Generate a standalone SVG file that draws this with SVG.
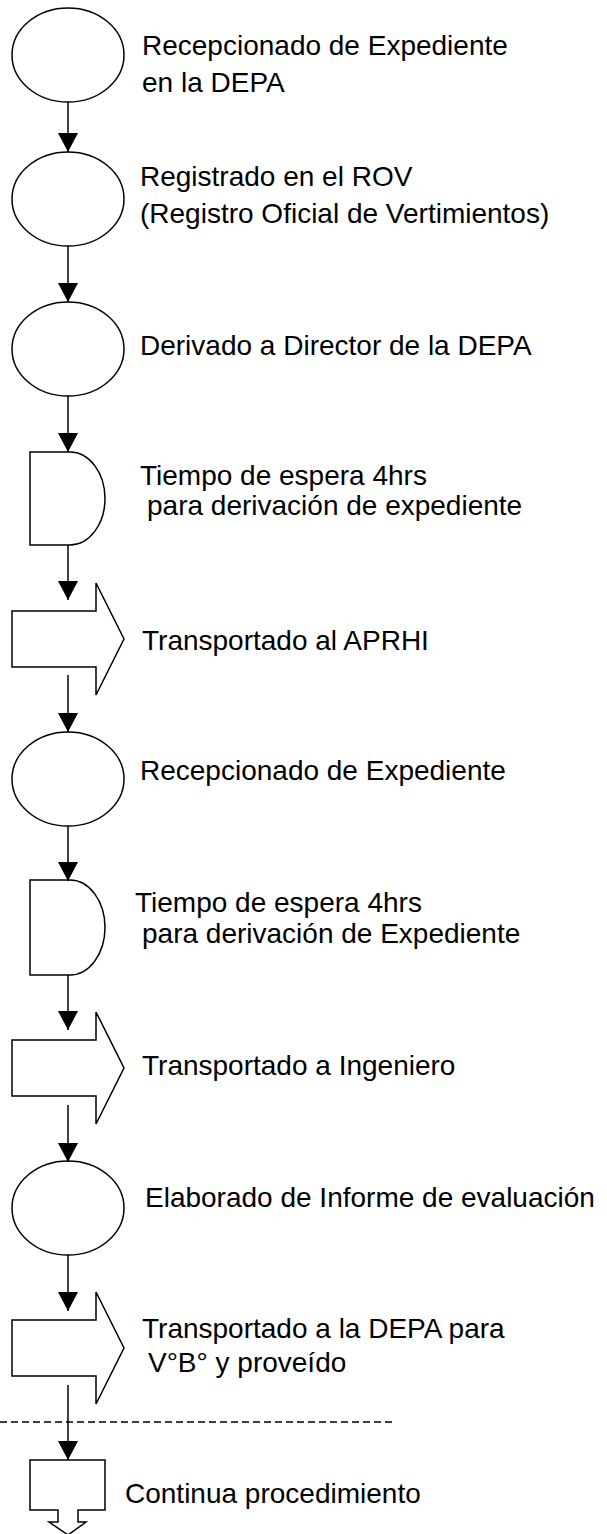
<svg xmlns="http://www.w3.org/2000/svg" width="607" height="1534" viewBox="0 0 607 1534">
<style>
.s{fill:#fff;stroke:#000;stroke-width:1.5}
.t{font-family:"Liberation Sans",Arial,sans-serif;font-size:28px;fill:#000}
.c{stroke:#000;stroke-width:1.5;fill:none}
</style>
<defs>
<marker id="ah" markerUnits="userSpaceOnUse" markerWidth="20" markerHeight="20" viewBox="0 0 20 20" refX="19" refY="10" orient="auto">
<path d="M0,0 L19,10 L0,20 Z" fill="#000"/>
</marker>
</defs>
<rect width="607" height="1534" fill="#fff"/>
<g id="n1"><ellipse class="s" cx="68" cy="55" rx="56" ry="47"/><text class="t" x="142" y="55">Recepcionado de Expediente</text><text class="t" x="142" y="92">en la DEPA</text></g>
<g id="n2"><ellipse class="s" cx="68" cy="199" rx="56" ry="47"/><text class="t" x="140" y="186">Registrado en el ROV</text><text class="t" x="140" y="223">(Registro Oficial de Vertimientos)</text></g>
<g id="n3"><ellipse class="s" cx="68" cy="349" rx="56" ry="47"/><text class="t" x="140" y="355">Derivado a Director de la DEPA</text></g>
<g id="n4"><path class="s" d="M30,452 H70 A35,46.5 0 0 1 70,545 H30 Z"/><text class="t" x="140" y="485">Tiempo de espera 4hrs</text><text class="t" x="147" y="515">para derivación de expediente</text></g>
<g id="n5"><path class="s" d="M12,611 H96 V583 L124,639 L96,695 V667 H12 Z"/><text class="t" x="142" y="650">Transportado al APRHI</text></g>
<g id="n6"><ellipse class="s" cx="68" cy="779" rx="56" ry="47"/><text class="t" x="140" y="780">Recepcionado de Expediente</text></g>
<g id="n7"><path class="s" d="M30,880 H70 A35,47.5 0 0 1 70,975 H30 Z"/><text class="t" x="135" y="912">Tiempo de espera 4hrs</text><text class="t" x="142" y="943">para derivación de Expediente</text></g>
<g id="n8"><path class="s" d="M12,1040 H96 V1012 L124,1068 L96,1124 V1096 H12 Z"/><text class="t" x="142" y="1075">Transportado a Ingeniero</text></g>
<g id="n9"><ellipse class="s" cx="68" cy="1208" rx="56" ry="47"/><text class="t" x="145" y="1207">Elaborado de Informe de evaluación</text></g>
<g id="n10"><path class="s" d="M12,1320 H96 V1292 L124,1348 L96,1404 V1376 H12 Z"/><text class="t" x="142" y="1338">Transportado a la DEPA para</text><text class="t" x="148" y="1372">V°B° y proveído</text></g>
<g id="n11"><path class="s" d="M30,1460 H105 V1510 H78 V1522 H86 L68,1535 L49,1522 H58 V1510 H30 Z"/><text class="t" x="125" y="1503">Continua procedimiento</text></g>
<g id="divider"><line x1="0" y1="1422" x2="395" y2="1422" stroke="#000" stroke-width="1.3" stroke-dasharray="7,4"/></g>
<g id="connectors">
<line class="c" x1="68" y1="102" x2="68" y2="152" marker-end="url(#ah)"/>
<line class="c" x1="68" y1="246" x2="68" y2="302" marker-end="url(#ah)"/>
<line class="c" x1="68" y1="396" x2="68" y2="452" marker-end="url(#ah)"/>
<line class="c" x1="68" y1="545" x2="68" y2="600" marker-end="url(#ah)"/>
<line class="c" x1="68" y1="675" x2="68" y2="732" marker-end="url(#ah)"/>
<line class="c" x1="68" y1="826" x2="68" y2="881" marker-end="url(#ah)"/>
<line class="c" x1="68" y1="975" x2="68" y2="1030" marker-end="url(#ah)"/>
<line class="c" x1="68" y1="1105" x2="68" y2="1162" marker-end="url(#ah)"/>
<line class="c" x1="68" y1="1255" x2="68" y2="1311" marker-end="url(#ah)"/>
<line class="c" x1="68" y1="1385" x2="68" y2="1460" marker-end="url(#ah)"/>
</g>
</svg>
